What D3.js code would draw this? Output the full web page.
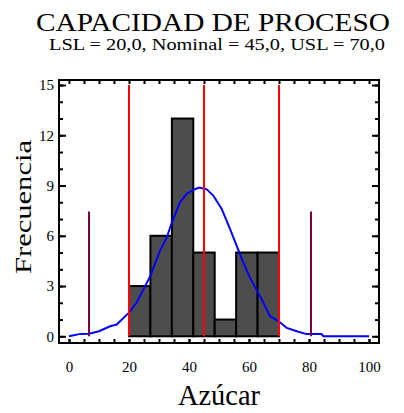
<!DOCTYPE html>
<html>
<head>
<meta charset="utf-8">
<script src="https://cdn.jsdelivr.net/npm/d3@7"></script>
<style>
  body { margin: 0; background: #fff; }
  text { font-family: "Liberation Serif", "DejaVu Serif", serif; }
</style>
</head>
<body>
<div id="wrapper"></div>
<script>
const binEdges = [20, 27.14, 34.29, 41.43, 48.57, 55.71, 62.86, 70]
const binCounts = [3, 6, 13, 5, 1, 5, 5]
const specLines = [20, 45, 70]          // LSL, Nominal, USL
const sigmaLines = [6.67, 80.67]        // mean -/+ 3 sigma
const sigmaLineHeight = 7.45
const curveX = [0, 3.4, 6.7, 10, 13.7, 15.9, 19.9, 22.5, 24.8, 27.1, 30.3, 32.6, 33.9, 37, 39.2, 41.5, 43.4, 45.9, 48.1, 50.9, 53.7, 55.9, 58.1, 60.3, 63.7, 67, 69.9, 72.6, 75.9, 79.2, 84.2, 84.8, 100]
const curveY = [0, 0.13, 0.15, 0.3, 0.6, 0.7, 1.4, 2.0, 2.8, 3.6, 5.1, 5.9, 6.6, 8.0, 8.5, 8.75, 8.88, 8.77, 8.4, 7.6, 6.4, 5.4, 4.4, 3.5, 2.4, 1.2, 0.9, 0.5, 0.3, 0.13, 0.13, 0, 0]
const yTicks = [0, 3, 6, 9, 12, 15]
const xTicks = [0, 20, 40, 60, 80, 100]

const serif = '"Liberation Serif", "DejaVu Serif", serif'

const dimensions = {
    width: 404,
    height: 413,
    plot: { left: 59, right: 379, top: 80, bottom: 343 }
}

const svg = d3.select('#wrapper')
    .append('svg')
    .attr('width', dimensions.width)
    .attr('height', dimensions.height)

const xScale = d3.scaleLinear()
    .domain([-3.33, 103.33])
    .range([dimensions.plot.left, dimensions.plot.right])

const yScale = d3.scaleLinear()
    .domain([-0.4, 15.3])
    .range([dimensions.plot.bottom, dimensions.plot.top])

// bars
const bars = binCounts.map((c, i) => ({ x0: binEdges[i], x1: binEdges[i + 1], count: c }))
svg.append('g').selectAll('rect')
    .data(bars)
    .join('rect')
    .attr('x', d => xScale(d.x0))
    .attr('y', d => yScale(d.count))
    .attr('width', d => xScale(d.x1) - xScale(d.x0))
    .attr('height', d => yScale(0) - yScale(d.count))
    .attr('fill', '#4d4d4d')
    .attr('stroke', 'black')
    .attr('stroke-width', 2)

// normal curve
const curve = curveX.map((x, i) => [x, curveY[i]])
const lineGenerator = d3.line()
    .x(d => xScale(d[0]))
    .y(d => yScale(d[1]))
svg.append('path')
    .attr('d', lineGenerator(curve))
    .attr('fill', 'none')
    .attr('stroke', '#0000ff')
    .attr('stroke-width', 2)

// spec limits
svg.append('g').selectAll('line')
    .data(specLines)
    .join('line')
    .attr('x1', d => xScale(d))
    .attr('x2', d => xScale(d))
    .attr('y1', yScale(0))
    .attr('y2', yScale(15))
    .attr('stroke', '#ff0000')
    .attr('stroke-width', 2)

svg.append('g').selectAll('line')
    .data(sigmaLines)
    .join('line')
    .attr('x1', d => xScale(d))
    .attr('x2', d => xScale(d))
    .attr('y1', yScale(0))
    .attr('y2', yScale(sigmaLineHeight))
    .attr('stroke', '#7a0040')
    .attr('stroke-width', 2)

// axes (ticks point inwards)
const styleAxis = g => {
    g.attr('font-family', serif).attr('font-size', 15)
    g.select('.domain').remove()
    g.selectAll('line').attr('stroke', 'black').attr('stroke-width', 2)
    g.selectAll('text')
        .style('font-family', serif)
        .style('font-size', '15px')
        .attr('fill', 'black')
}
const minorY = d3.range(0, 16)
const minorX = d3.range(0, 101, 5)

svg.append('g')
    .attr('transform', `translate(${dimensions.plot.left},0)`)
    .call(d3.axisLeft(yScale).tickValues(minorY).tickSize(-4).tickFormat(''))
    .call(styleAxis)
svg.append('g')
    .attr('transform', `translate(${dimensions.plot.left},0)`)
    .call(d3.axisLeft(yScale).tickValues(yTicks).tickSize(-7).tickPadding(5))
    .call(styleAxis)
svg.append('g')
    .attr('transform', `translate(${dimensions.plot.right},0)`)
    .call(d3.axisRight(yScale).tickValues(minorY).tickSize(-4).tickFormat(''))
    .call(styleAxis)
svg.append('g')
    .attr('transform', `translate(${dimensions.plot.right},0)`)
    .call(d3.axisRight(yScale).tickValues(yTicks).tickSize(-7).tickFormat(''))
    .call(styleAxis)

svg.append('g')
    .attr('transform', `translate(0,${dimensions.plot.bottom})`)
    .call(d3.axisBottom(xScale).tickValues(minorX).tickSize(-4).tickFormat(''))
    .call(styleAxis)
svg.append('g')
    .attr('transform', `translate(0,${dimensions.plot.bottom})`)
    .call(d3.axisBottom(xScale).tickValues(xTicks).tickSize(-4).tickPadding(18))
    .call(styleAxis)
svg.append('g')
    .attr('transform', `translate(0,${dimensions.plot.top})`)
    .call(d3.axisTop(xScale).tickValues(minorX).tickSize(-4).tickFormat(''))
    .call(styleAxis)

// frame
svg.append('rect')
    .attr('x', dimensions.plot.left)
    .attr('y', dimensions.plot.top)
    .attr('width', dimensions.plot.right - dimensions.plot.left)
    .attr('height', dimensions.plot.bottom - dimensions.plot.top)
    .attr('fill', 'none')
    .attr('stroke', 'black')
    .attr('stroke-width', 2)

// titles
svg.append('text')
    .attr('x', 213)
    .attr('y', 31)
    .attr('text-anchor', 'middle')
    .attr('textLength', 354)
    .attr('lengthAdjust', 'spacingAndGlyphs')
    .style('font-size', '26px')
    .text('CAPACIDAD DE PROCESO')

svg.append('text')
    .attr('x', 217)
    .attr('y', 49.5)
    .attr('text-anchor', 'middle')
    .attr('textLength', 336)
    .attr('lengthAdjust', 'spacingAndGlyphs')
    .style('font-size', '16px')
    .text('LSL = 20,0, Nominal = 45,0, USL = 70,0')

svg.append('text')
    .attr('x', 219)
    .attr('y', 405)
    .attr('text-anchor', 'middle')
    .attr('textLength', 82)
    .attr('lengthAdjust', 'spacingAndGlyphs')
    .style('font-size', '29px')
    .text('Azúcar')

svg.append('text')
    .attr('transform', 'translate(31,207) rotate(-90)')
    .attr('text-anchor', 'middle')
    .attr('textLength', 134)
    .attr('lengthAdjust', 'spacingAndGlyphs')
    .style('font-size', '24px')
    .text('Frecuencia')
</script>
</body>
</html>
